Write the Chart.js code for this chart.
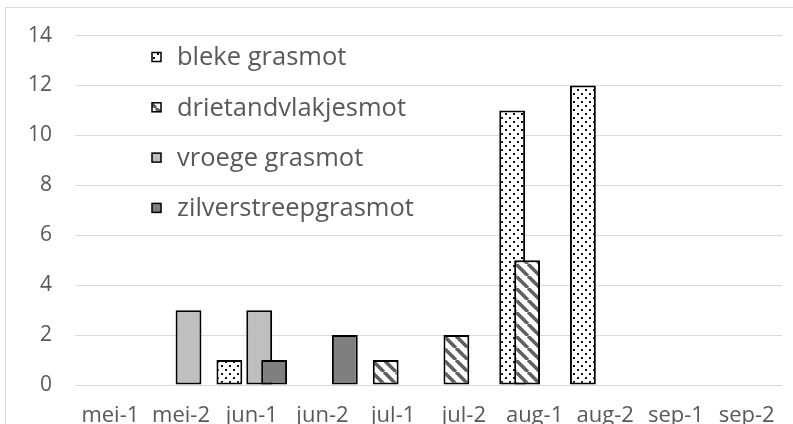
<!DOCTYPE html>
<html>
<head>
<meta charset="utf-8">
<script src="https://cdn.jsdelivr.net/npm/chart.js@4.4.1/dist/chart.umd.min.js"></script>
<style>
    html, body { margin: 0; padding: 0; background: #fff; overflow: hidden; }
    #frame { position: absolute; left: 5px; top: 7px; width: 820px; height: 480px; border: 1px solid #d9d9d9; }
    #wrap { position: absolute; left: 0; top: 0; width: 793px; height: 450px; }
</style>
</head>
<body>
<div id="frame"></div>
<div id="wrap"><canvas id="chart" width="793" height="450"></canvas></div>
<script>
// periods (first / second half of month)
const periods = ["mei-1", "mei-2", "jun-1", "jun-2", "jul-1", "jul-2", "aug-1", "aug-2", "sep-1", "sep-2"];

// counts per species, null = none seen
const blekeGrasmot = [null, null, 1, null, null, null, 11, 12, null, null];
const drietandvlakjesmot = [null, null, null, null, 1, 2, 5, null, null, null];
const vroegeGrasmot = [null, 3, 3, null, null, null, null, null, null, null];
const zilverstreepgrasmot = [null, null, 1, 2, null, null, null, null, null, null];

const seriesNames = ["bleke grasmot", "drietandvlakjesmot", "vroege grasmot", "zilverstreepgrasmot"];
const yTicks = [0, 2, 4, 6, 8, 10, 12, 14];

const textColor = "#595959";
const gridColor = "#d9d9d9";
const fontFamily = "'Open Sans', 'Liberation Sans', sans-serif";

function makePattern(size, drawFn) {
    const c = document.createElement("canvas");
    c.width = size;
    c.height = size;
    const g = c.getContext("2d");
    g.fillStyle = "#fff";
    g.fillRect(0, 0, size, size);
    drawFn(g);
    return g.createPattern(c, "repeat");
}

const dots = makePattern(8, g => {
    g.fillStyle = "#111";
    g.fillRect(1, 1, 2, 2);
    g.fillRect(5, 5, 2, 2);
});

const stripes = makePattern(12, g => {
    g.strokeStyle = "#5f5f5f";
    g.lineWidth = 3.5;
    [-12, 0, 12].forEach(x0 => {
        g.beginPath();
        g.moveTo(x0, 0);
        g.lineTo(x0 + 12, 12);
        g.stroke();
    });
});

const fills = [dots, stripes, "#bfbfbf", "#7f7f7f"];
const values = [blekeGrasmot, drietandvlakjesmot, vroegeGrasmot, zilverstreepgrasmot];

const datasets = seriesNames.map((name, i) => ({
    label: name,
    data: values[i],
    backgroundColor: fills[i],
    borderColor: "#000",
    borderWidth: 2,
    borderSkipped: false,
    categoryPercentage: 0.844,
    barPercentage: 1.733
}));

// Excel draws later series on top; Chart.js does the opposite by default
const drawOrderPlugin = {
    id: "drawOrder",
    beforeDatasetsDraw(chart) {
        chart.getSortedVisibleDatasetMetas().forEach(meta => meta.controller.draw());
        return false;
    }
};

// legend boxed inside the plot, top left, like the original sheet
const innerLegend = {
    id: "innerLegend",
    afterDraw(chart) {
        const ctx = chart.ctx;
        const boxX = 152, textX = 177, firstY = 57, step = 50.3;
        ctx.save();
        ctx.font = "25.5px " + fontFamily;
        ctx.textBaseline = "middle";
        chart.data.datasets.forEach((ds, i) => {
            const y = firstY + i * step;
            ctx.fillStyle = ds.backgroundColor;
            ctx.fillRect(boxX, y - 4.5, 9, 9);
            ctx.lineWidth = 1.5;
            ctx.strokeStyle = "#000";
            ctx.strokeRect(boxX, y - 4.5, 9, 9);
            ctx.fillStyle = textColor;
            ctx.fillText(ds.label, textX, y + 1);
        });
        ctx.restore();
    }
};

new Chart(document.getElementById("chart"), {
    type: "bar",
    data: { labels: periods, datasets: datasets },
    options: {
        responsive: false,
        animation: false,
        layout: { padding: { left: 0, right: 7, top: 28, bottom: 0 } },
        plugins: {
            legend: { display: false },
            tooltip: { enabled: false }
        },
        scales: {
            x: {
                grid: { display: false, drawTicks: false },
                border: { display: false },
                ticks: {
                    color: textColor,
                    font: { family: fontFamily, size: 22 },
                    padding: 18,
                    maxRotation: 0,
                    autoSkip: false
                },
                afterFit(scale) { scale.height = 65; }
            },
            y: {
                min: 0,
                max: 14,
                afterBuildTicks(scale) { scale.ticks = yTicks.map(v => ({ value: v })); },
                grid: { color: gridColor, lineWidth: 1, drawTicks: false },
                border: { display: false },
                ticks: {
                    color: textColor,
                    font: { family: fontFamily, size: 21 },
                    padding: 23
                },
                afterFit(scale) { scale.width = 75; }
            }
        }
    },
    plugins: [drawOrderPlugin, innerLegend]
});
</script>
</body>
</html>
